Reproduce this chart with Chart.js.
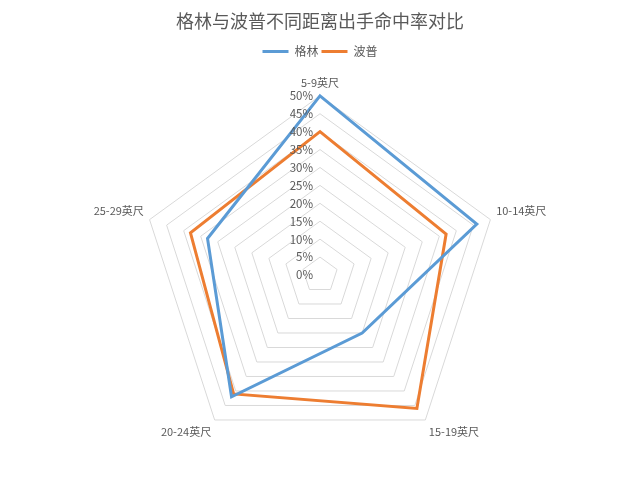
<!DOCTYPE html>
<html>
<head>
<meta charset="utf-8">
<script src="https://cdn.jsdelivr.net/npm/chart.js@4.4.1/dist/chart.umd.min.js"></script>
<style>
  html, body { margin: 0; padding: 0; background: #fff; }
  #wrap { width: 640px; height: 480px; }
</style>
</head>
<body>
<div id="wrap"><canvas id="radarChart"></canvas></div>
<script>
// distance categories and shooting percentages (%)
const distances = ['5-9英尺', '10-14英尺', '15-19英尺', '20-24英尺', '25-29英尺'];
const greenPct = [50, 46, 20, 42, 33];
const popePct = [40, 37, 46, 41, 38];
const tickStep = 5;
const tickMax = 50;

const FONT = '"Noto Sans CJK SC", "Noto Sans", sans-serif';

// Excel puts the % labels just left of the vertical axis
const tickLabels = {
  id: 'tickLabels',
  afterDatasetsDraw(chart) {
    const scale = chart.scales.r;
    const ctx = chart.ctx;
    ctx.save();
    ctx.font = '11.5px ' + FONT;
    ctx.fillStyle = '#595959';
    ctx.textAlign = 'right';
    ctx.textBaseline = 'middle';
    for (let v = 0; v <= tickMax; v += tickStep) {
      const d = scale.getDistanceFromCenterForValue(v);
      ctx.fillText(v + '%', scale.xCenter - 7, scale.yCenter - d);
    }
    ctx.restore();
  }
};

new Chart(document.getElementById('radarChart'), {
  type: 'radar',
  data: {
    labels: distances,
    datasets: [
      {
        label: '格林',
        data: greenPct,
        borderColor: '#5b9bd5',
        backgroundColor: 'transparent',
        borderWidth: 3,
        pointRadius: 0,
        fill: false
      },
      {
        label: '波普',
        data: popePct,
        borderColor: '#ed7d31',
        backgroundColor: 'transparent',
        borderWidth: 3,
        pointRadius: 0,
        fill: false
      }
    ]
  },
  options: {
    responsive: true,
    maintainAspectRatio: false,
    animation: false,
    layout: { padding: { top: 4, bottom: 14, left: 0, right: 0 } },
    scales: {
      r: {
        min: 0,
        max: tickMax,
        ticks: { stepSize: tickStep, display: false },
        angleLines: { display: false },
        grid: { color: '#d9d9d9', lineWidth: 1 },
        pointLabels: {
          color: '#595959',
          font: { family: FONT, size: 11 },
          padding: 6
        }
      }
    },
    plugins: {
      title: {
        display: true,
        text: '格林与波普不同距离出手命中率对比',
        color: '#595959',
        font: { family: FONT, size: 18, weight: 'normal' },
        padding: { top: 6, bottom: 11 }
      },
      legend: {
        position: 'top',
        labels: {
          color: '#595959',
          font: { family: FONT, size: 12 },
          usePointStyle: true,
          pointStyle: 'line',
          pointStyleWidth: 26,
          boxHeight: 12,
          padding: 3
        }
      },
      tooltip: { enabled: false }
    }
  },
  plugins: [tickLabels]
});
</script>
</body>
</html>
